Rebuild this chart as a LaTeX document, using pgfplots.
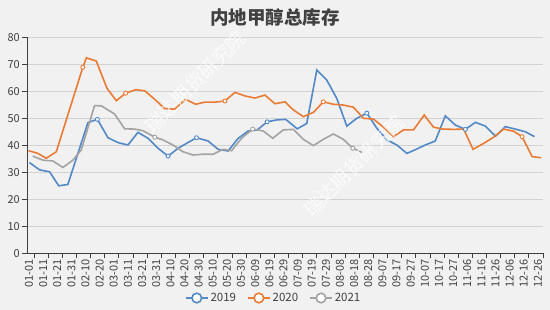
\documentclass[border=0pt]{standalone}
\usepackage{pgfplots}
\pgfplotsset{compat=1.18}
\usepackage{pgfplotstable}
\usepackage{fontspec}
\setmainfont{Noto Sans CJK SC}
\definecolor{bg}{HTML}{F1F1F1}
\definecolor{gridc}{HTML}{D2D2D2}
\definecolor{axisc}{HTML}{404040}
\definecolor{textc}{HTML}{404040}
\definecolor{c19}{HTML}{5289C6}
\definecolor{c20}{HTML}{E97B35}
\definecolor{c21}{HTML}{A3A3A3}

\pgfplotstableread{
d v
1.8 33.6
8.9 30.9
15.9 30.2
22.5 25.0
28.9 25.5
43.1 48.4
49.8 49.6
57.3 42.8
64.4 41.0
71.4 40.1
78.5 44.8
85.6 42.6
92.7 38.9
99.8 36.0
106.9 38.9
112.8 40.7
119.9 42.8
128.1 41.6
135.2 38.5
142.3 37.9
149.4 42.6
156.5 45.3
162.9 45.7
169.9 48.7
176.6 49.4
183.0 49.6
191.2 46.1
197.9 48.1
205.0 67.9
212.0 64.2
219.1 57.4
226.2 47.1
233.3 50.0
240.4 51.9
247.5 46.3
254.6 42.0
261.7 40.1
268.7 37.0
275.2 38.5
281.7 40.1
288.8 41.6
295.9 50.9
303.0 47.5
310.1 45.9
317.2 48.5
324.3 47.1
331.4 43.4
338.4 46.9
345.5 46.0
352.6 45.0
359.0 43.2
}\dataA

\pgfplotstableread{
d v
1.1 38.0
7.7 37.0
13.6 35.2
20.7 37.6
39.5 68.9
42.0 72.4
49.0 71.2
56.6 61.1
63.2 56.5
69.8 59.3
76.9 60.6
83.3 60.2
90.4 57.0
97.4 53.6
104.5 53.4
112.1 57.0
119.4 55.2
125.8 56.0
132.9 56.0
140.0 56.4
147.1 59.6
154.1 58.3
161.2 57.5
168.3 58.6
175.4 55.4
182.5 56.1
188.4 53.1
195.5 50.6
202.6 52.2
209.6 56.1
216.7 55.2
223.8 54.9
230.9 54.1
238.0 50.0
245.1 49.7
252.2 46.7
259.2 43.2
266.3 45.7
273.4 45.7
281.0 51.2
287.6 46.7
294.7 46.0
301.8 45.9
308.9 46.0
315.5 38.5
323.0 40.7
330.1 43.0
337.2 46.0
344.3 45.2
350.2 43.2
357.3 35.8
363.7 35.4
}\dataB

\pgfplotstableread{
d v
4.1 36.0
11.2 34.5
18.3 34.2
25.4 31.8
32.5 34.5
38.4 38.3
47.8 54.7
52.6 54.6
62.0 51.6
69.1 46.1
76.2 46.0
82.1 45.4
90.4 43.0
96.2 42.0
103.3 40.1
110.4 37.6
117.5 36.4
124.6 36.7
131.7 36.7
138.8 38.5
144.7 38.0
151.8 42.6
159.6 46.0
167.1 45.3
173.8 42.6
181.3 45.7
188.4 45.9
195.5 42.2
202.6 39.9
209.6 42.2
216.7 44.2
223.8 42.2
230.5 38.9
236.9 37.4
}\dataC

\begin{document}
\begin{tikzpicture}
\useasboundingbox (0pt,0pt) rectangle (550pt,310pt);
\fill[bg] (0pt,0pt) rectangle (550pt,310pt);
\begin{axis}[
  at={(27pt,56.7pt)}, anchor=south west,
  width=516pt, height=216pt, scale only axis,
  xmin=0, xmax=365, ymin=0, ymax=80,
  axis x line*=bottom, axis y line*=left,
  axis line style={draw=axisc, line width=0.8pt},
  ytick={0,10,...,80},
  ymajorgrids, grid style={draw=gridc, line width=0.8pt},
  xtick={0,10,...,360},
  xticklabels={01-01,01-11,01-21,01-31,02-10,02-20,03-01,03-11,03-21,03-31,04-10,04-20,04-30,05-10,05-20,05-30,06-09,06-19,06-29,07-09,07-19,07-29,08-08,08-18,08-28,09-07,09-17,09-27,10-07,10-17,10-27,11-06,11-16,11-26,12-06,12-16,12-26},
  xtick style={draw=none},
  extra x ticks={5,15,...,365},
  extra x tick labels={},
  extra x tick style={xtick style={draw=axisc, line width=0.8pt}},
  ytick style={draw=axisc, line width=0.8pt},
  tick align=outside, major tick length=5pt,
  tick label style={font=\fontsize{11}{13}\selectfont, text=textc},
  xticklabel style={rotate=90, anchor=east, inner sep=1pt, yshift=-2pt},
  yticklabel style={inner sep=2pt},
  /pgf/number format/assume math mode=true,
  legend style={at={(0.478,-0.207)}, anchor=center, draw=none, fill=none,
    font=\fontsize{11.5}{13}\selectfont, text=textc, legend columns=3,
    /tikz/every even column/.append style={column sep=9pt}},
  legend image code/.code={
    \draw[#1, mark=none] (0pt,0pt) -- (22pt,0pt);
    \draw[#1, mark=none, fill=white] (11pt,0pt) circle (4.8pt);},
  every axis plot/.append style={line width=1.6pt, mark size=2pt, mark options={fill=white, line width=0.9pt}},
]
\addplot[c19, mark=*, mark indices={7,14,17,24,34,44}] table[x=d,y=v] {\dataA};
\addlegendentry{2019}
\addplot[c20, mark=*, mark indices={5,10,20,30,50}] table[x=d,y=v] {\dataB};
\addlegendentry{2020}
\addplot[c21, mark=*, mark indices={13,23,33}] table[x=d,y=v] {\dataC};
\addlegendentry{2021}
\end{axis}
\node[font=\fontsize{18.5}{20}\selectfont\bfseries, text=textc] at (275pt,293pt) {内地甲醇总库存};
\node[font=\fontsize{19}{20}\selectfont, text=white, opacity=0.75, rotate=45] at (195pt,228pt) {瑞达期货研究院};
\node[font=\fontsize{19}{20}\selectfont, text=white, opacity=0.75, rotate=45] at (354pt,144pt) {瑞达期货研究院};
\end{tikzpicture}
\end{document}
